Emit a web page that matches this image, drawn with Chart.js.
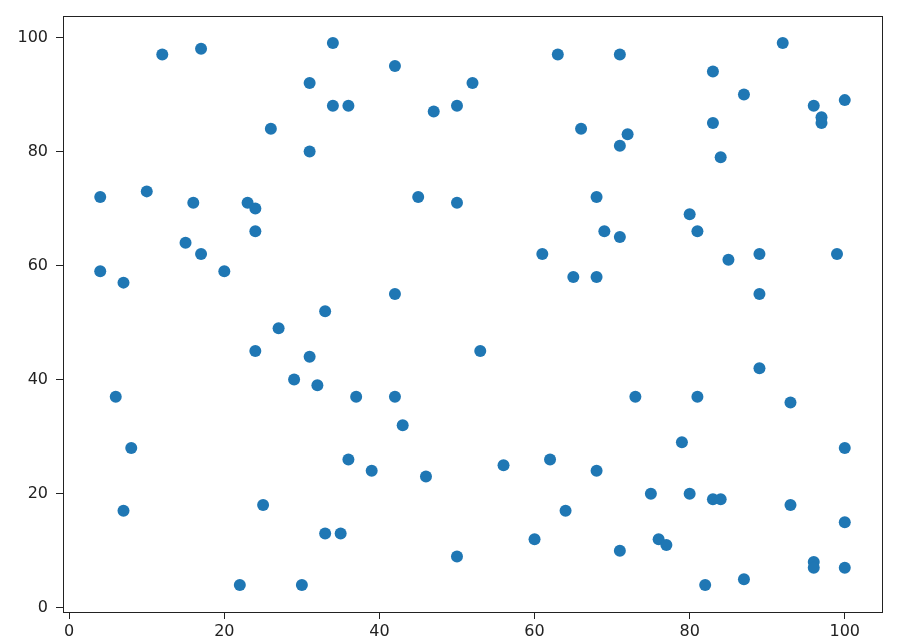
<!DOCTYPE html>
<html>
<head>
<meta charset="utf-8">
<script src="https://cdn.jsdelivr.net/npm/chart.js@4/dist/chart.umd.min.js"></script>
<style>
  html, body { margin: 0; padding: 0; background: #fff; overflow: hidden; }
  #wrap { width: 921px; height: 637px; }
</style>
</head>
<body>
<div id="wrap"><canvas id="scatter"></canvas></div>
<script>
// values
const xValues = [4, 4, 7, 10, 12, 17, 16, 15, 17, 20, 23, 24, 24, 26, 31, 34, 34, 36, 31, 42,
    47, 50, 52, 45, 50, 42, 33, 27, 24, 31, 29, 32, 37, 42, 43, 36, 39, 46, 25, 33,
    35, 22, 30, 50, 6, 8, 7, 53, 56, 62, 64, 60, 71, 68, 73, 75, 79, 80, 81, 83,
    84, 76, 77, 82, 87, 93, 93, 100, 100, 96, 96, 100, 89, 61, 65, 68, 68, 69, 71, 80,
    81, 85, 89, 89, 99, 63, 71, 66, 72, 71, 83, 83, 84, 87, 92, 96, 97, 97, 100];
const yValues = [72, 59, 57, 73, 97, 98, 71, 64, 62, 59, 71, 70, 66, 84, 92, 99, 88, 88, 80, 95,
    87, 88, 92, 72, 71, 55, 52, 49, 45, 44, 40, 39, 37, 37, 32, 26, 24, 23, 18, 13,
    13, 4, 4, 9, 37, 28, 17, 45, 25, 26, 17, 12, 10, 24, 37, 20, 29, 20, 37, 19,
    19, 12, 11, 4, 5, 18, 36, 28, 15, 8, 7, 7, 42, 62, 58, 58, 72, 66, 65, 69,
    66, 61, 62, 55, 62, 97, 97, 84, 83, 81, 94, 85, 79, 90, 99, 88, 86, 85, 89];
const xTicks = [0, 20, 40, 60, 80, 100];
const yTicks = [0, 20, 40, 60, 80, 100];

const points = xValues.map((x, i) => ({ x: x, y: yValues[i] }));

// matplotlib style box around the plot area
const frame = {
    id: 'frame',
    afterDraw(chart) {
        const a = chart.chartArea;
        const ctx = chart.ctx;
        ctx.save();
        ctx.strokeStyle = '#222';
        ctx.lineWidth = 1;
        ctx.strokeRect(Math.round(a.left) + 0.5, Math.round(a.top) + 0.5,
            Math.round(a.right - a.left), Math.round(a.bottom - a.top));
        ctx.restore();
    }
};

const tickFont = { family: 'DejaVu Sans', size: 16 };

new Chart(document.getElementById('scatter'), {
    type: 'scatter',
    data: {
        datasets: [{
            data: points,
            backgroundColor: '#1f77b4',
            borderWidth: 0,
            pointRadius: 6,
            pointHoverRadius: 6
        }]
    },
    options: {
        responsive: true,
        maintainAspectRatio: false,
        animation: false,
        layout: { padding: { top: 16, right: 39, left: 0, bottom: 0 } },
        plugins: { legend: { display: false }, tooltip: { enabled: false } },
        scales: {
            x: {
                type: 'linear',
                min: -0.8,
                max: 104.8,
                afterBuildTicks: axis => { axis.ticks = xTicks.map(v => ({ value: v })); },
                afterFit: axis => { axis.height = 25; axis.paddingLeft = 0; axis.paddingRight = 0; },
                grid: { display: true, drawOnChartArea: false, drawTicks: true, tickLength: 7, color: '#222' },
                border: { display: true, color: '#222' },
                ticks: { font: tickFont, color: '#222', padding: 3, maxRotation: 0 }
            },
            y: {
                type: 'linear',
                min: -0.75,
                max: 103.75,
                afterBuildTicks: axis => { axis.ticks = yTicks.map(v => ({ value: v })); },
                afterFit: axis => { axis.width = 63; axis.paddingTop = 0; axis.paddingBottom = 0; },
                grid: { display: true, drawOnChartArea: false, drawTicks: true, tickLength: 7, color: '#222' },
                border: { display: true, color: '#222' },
                ticks: { font: tickFont, color: '#222', padding: 8 }
            }
        }
    },
    plugins: [frame]
});
</script>
</body>
</html>
